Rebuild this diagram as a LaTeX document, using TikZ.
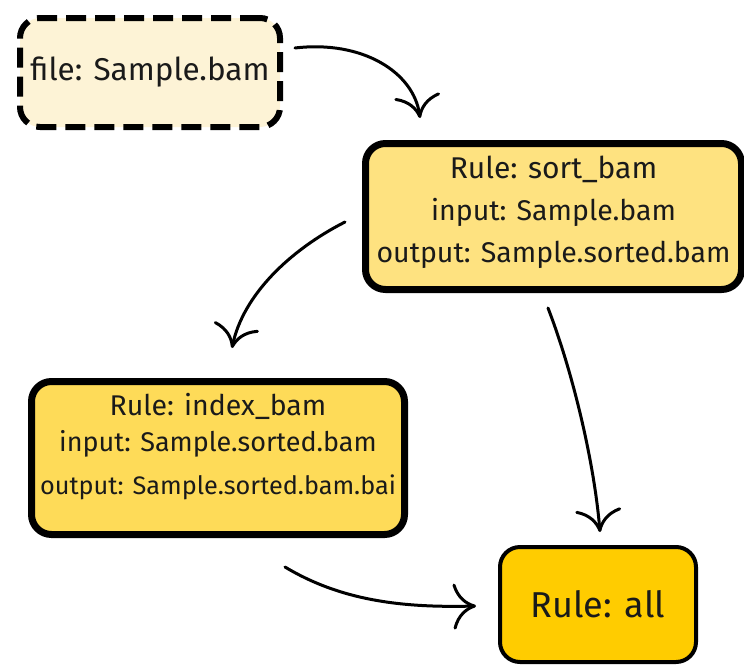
\documentclass[tikz,border=0pt]{standalone}
\usepackage{fontspec}
\setmainfont{Fira Sans}
\usetikzlibrary{arrows.meta,calc}
\definecolor{filefill}{HTML}{FDF3D6}
\definecolor{sortfill}{HTML}{FEE280}
\definecolor{indexfill}{HTML}{FEDB58}
\definecolor{allfill}{HTML}{FFCC00}
\definecolor{ink}{HTML}{1A1A1A}
\tikzset{
  box/.style={draw=black, rounded corners=20pt, outer sep=0pt, inner sep=0pt, text=ink, align=center},
  filebox/.style={box, fill=filefill, line width=6pt, dash pattern=on 20pt off 9pt, minimum width=260pt, minimum height=109pt},
  rulebox/.style={box, line width=7pt},
  arr/.style={line width=3pt, line cap=round, -{Computer Modern Rightarrow[length=23pt, width=46pt, line width=3pt]}},
}
\newcommand{\upbox}[2]{\raisebox{#1}[\height][\depth]{#2}}
\begin{document}
\begin{tikzpicture}[x=1pt,y=1pt]
\useasboundingbox (0,0) rectangle (744,-664);
\node[filebox] (file) at (150,-72.5) {\fontsize{31.5}{36}\selectfont file: Sample.bam};
\node[rulebox, fill=sortfill, minimum width=376pt, minimum height=146pt] (sort) at (553.5,-216.5)
  {\upbox{4pt}{\begin{tabular}{@{}c@{}}\fontsize{30}{34}\selectfont Rule: sort\_bam\\[16pt]
   \fontsize{28.5}{32}\selectfont input: Sample.bam\\[17pt]
   \fontsize{28.5}{32}\selectfont output: Sample.sorted.bam\end{tabular}}};
\node[rulebox, fill=indexfill, minimum width=373pt, minimum height=153pt] (index) at (218,-458)
  {\upbox{11pt}{\begin{tabular}{@{}c@{}}\fontsize{28.5}{32}\selectfont Rule: index\_bam\\[11pt]
   \fontsize{27}{30}\selectfont input: Sample.sorted.bam\\[20pt]
   \fontsize{25.3}{30}\selectfont output: Sample.sorted.bam.bai\end{tabular}}};
\node[box, fill=allfill, line width=4pt, minimum width=196pt, minimum height=115pt] (all) at (598,-604.5)
  {\fontsize{36}{40}\selectfont Rule: all};
\draw[arr] ($(file.center)+(145,24.5)$) .. controls (362,-40) and (414,-72) .. ($(sort.center)+(-133.5,98.5)$);
\draw[arr] ($(sort.center)+(-208.5,-5.5)$) .. controls (290,-250) and (243,-295) .. ($(index.center)+(14,110)$);
\draw[arr] ($(sort.center)+(-5.5,-91.5)$) .. controls (572,-370) and (594,-460) .. ($(all.center)+(2,72.5)$);
\draw[arr] ($(index.center)+(67,-109)$) .. controls (340,-600) and (400,-608) .. ($(all.center)+(-122,-1.5)$);
\end{tikzpicture}
\end{document}
